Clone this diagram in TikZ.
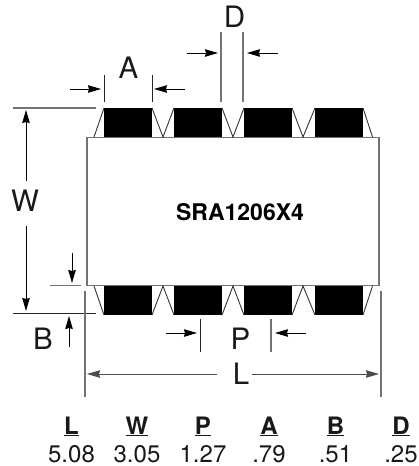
\documentclass[tikz,border=0pt]{standalone}
\usepackage{fontspec}
\setmainfont{TeX Gyre Heros}
\usetikzlibrary{arrows.meta}
\tikzset{
  dimtip/.tip={Stealth[length=13pt,width=7.5pt,inset=1pt]},
  pad/.style={fill=black,draw=none},
  thin line/.style={line width=0.9pt,draw=black!80},
  ext/.style={line width=1.3pt,draw=black!55},
  ext dark/.style={line width=1pt,draw=black!85},
  dimarrow/.style={line width=1pt,draw=black,-{dimtip}},
  big/.style={font=\fontsize{29.5}{31}\selectfont,inner sep=0pt,text=black!90},
  head/.style={font=\fontsize{24}{26}\selectfont\bfseries,inner sep=0pt,text=black!90},
  val/.style={font=\fontsize{24}{26}\selectfont,inner sep=0pt,text=black!90},
  part/.style={font=\fontsize{23}{25}\selectfont\bfseries,inner sep=0pt},
}
\begin{document}
\begin{tikzpicture}[x=1pt,y=-1pt]
\useasboundingbox (0,0) rectangle (419,466);
% body
\draw[ext] (87,137.5) rectangle (379,285.5);
\node[part] (name) at (240,212) {SRA1206X4};
% pads
\foreach \xa/\xb in {104/152,174/222,244/292,315/363}{
  \fill[pad] (\xa,108) rectangle (\xb,137);
  \fill[pad] (\xa,286) rectangle (\xb,315);
}
% leg slopes
\draw[thin line] (104,108) -- (94,137);
\draw[thin line] (152,108) -- (163,137) -- (174,108);
\draw[thin line] (222,108) -- (233,137) -- (244,108);
\draw[thin line] (292,108) -- (303,137) -- (315,108);
\draw[thin line] (363,108) -- (372.5,137);
\draw[thin line] (94,286) -- (104,315);
\draw[thin line] (152,315) -- (163,286) -- (174,315);
\draw[thin line] (222,315) -- (233,286) -- (244,315);
\draw[thin line] (292,315) -- (303,286) -- (315,315);
\draw[thin line] (363,315) -- (372.5,286);
% A
\draw[ext dark] (104,75) -- (104,102);
\draw[ext dark] (152,75) -- (152,102);
\draw[dimarrow] (70,89) -- (101,89);
\draw[dimarrow] (185,89) -- (154,89);
\node[big] (la) at (128.5,67.5) {A};
% D
\draw[ext] (221,32) -- (221,102);
\draw[ext] (243,32) -- (243,102);
\draw[dimarrow] (187,53) -- (218,53);
\draw[dimarrow] (278,53) -- (247,53);
\node[big] (ld) at (234.5,17) {D};
% W
\draw[ext] (13,108) -- (96,108);
\draw[ext dark] (13,313) -- (96,313);
\draw[dimarrow] (26,181) -- (26,110);
\draw[dimarrow] (26,226) -- (26,311);
\node[big] (lw) at (25,201) {W};
% B
\draw[ext] (50,285.5) -- (81,285.5);
\draw[dimarrow] (72,253) -- (72,283);
\draw[dimarrow] (69,347) -- (69,316);
\node[big] (lb) at (43,338.5) {B};
% L
\draw[ext] (85,291) -- (85,397);
\draw[ext] (381,291) -- (381,397);
\draw[dimarrow,draw=black!70] (217,374) -- (87,374);
\draw[dimarrow,draw=black!70] (252,374) -- (379,374);
\node[big] (ll) at (241,373.5) {L};
% P
\draw[ext dark] (200,319) -- (200,352);
\draw[ext] (271,319) -- (271,352);
\draw[dimarrow] (166,333) -- (197,333);
\draw[dimarrow] (306,333) -- (275,333);
\node[big] (lp) at (240.5,339) {P};
% table
\foreach \nm/\x/\h/\v in {tl/71.5/L/5.08,tw/137/W/3.05,tp/203/P/1.27,ta/269/A/.79,tb/335.5/B/.51,td/401/D/.25}{
  \node[head,anchor=base] (h\nm) at (\x,434) {\underline{\h}};
  \node[val,anchor=base] (v\nm) at (\x,462) {\v};
}
\end{tikzpicture}
\end{document}
